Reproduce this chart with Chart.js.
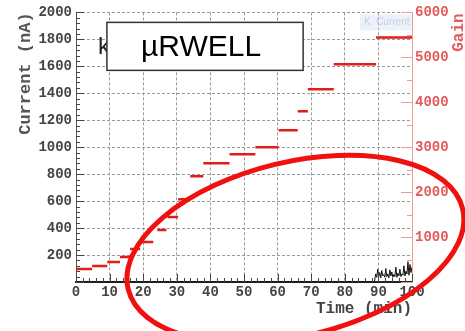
<!DOCTYPE html>
<html>
<head>
<meta charset="utf-8">
<script src="https://cdn.jsdelivr.net/npm/chart.js@4.4.1/dist/chart.umd.min.js"></script>
<style>
  html, body { margin: 0; padding: 0; background: #fff; }
  #wrap { width: 465px; height: 331px; }
</style>
</head>
<body>
<div id="wrap"><canvas id="canvas"></canvas></div>
<script>
//****DATA****//

// gain steps (red), time in min
var segStart = [0, 4.8, 9.3, 13.1, 16.1, 19.1, 24.2, 27.2, 30.4, 34, 37.9, 45.7, 53.4, 60.3, 66, 69, 76.7, 89.3];
var segEnd   = [4.8, 9.3, 13.1, 16.1, 19.1, 23, 26.9, 30.4, 33.7, 37.9, 45.7, 53.4, 60.3, 66, 69, 76.7, 89.3, 100];
var segGain  = [290, 355, 444, 555, 733, 890, 1155, 1444, 1844, 2355, 2644, 2844, 3000, 3377, 3800, 4289, 4844, 5444];

// current trace (black), nA
var currentTime  = [0, 88.8, 89.2, 89.5, 89.8, 90.1, 90.4, 90.7, 91.0, 91.3, 91.6, 91.9, 92.2, 92.5, 92.8, 93.1,
                    93.4, 93.7, 94.0, 94.3, 94.6, 94.9, 95.2, 95.5, 95.8, 96.1, 96.4, 96.7, 97.0, 97.3, 97.6,
                    97.9, 98.2, 98.5, 98.8, 99.1, 99.4, 99.7, 100];
var currentValue = [0, 0, 60, 35, 95, 40, 70, 30, 85, 45, 55, 35, 100, 40, 60, 30,
                    90, 45, 75, 35, 55, 40, 110, 35, 65, 45, 95, 40, 60, 50, 120,
                    45, 80, 60, 150, 50, 130, 70, 110];

var labelText = 'µRWELL';

//****HELPERS****//

var mono = '"Liberation Mono", "DejaVu Sans Mono", monospace';

function hideZero(v) {
  return v === 0 ? '' : v;
}

var gainPoints = [];
for (var i = 0; i < segStart.length; i++) {
  gainPoints.push({x: segStart[i], y: segGain[i]});
  gainPoints.push({x: segEnd[i], y: segGain[i]});
  gainPoints.push({x: segEnd[i], y: null});
}

var currentPoints = [];
for (var j = 0; j < currentTime.length; j++) {
  currentPoints.push({x: currentTime[j], y: currentValue[j]});
}

//****EXTRA DRAWING****//

var extras = {
  id: 'extras',
  afterDraw: function (chart) {
    var ctx = chart.ctx;
    var sx = chart.scales.x;
    var sy = chart.scales.y;
    var sg = chart.scales.gain;
    var area = chart.chartArea;
    var v;

    ctx.save();

    // minor / major ticks, inside the frame
    ctx.strokeStyle = '#444';
    ctx.lineWidth = 1;
    ctx.beginPath();
    for (v = 0; v <= 2000; v += 40) {
      var py = Math.round(sy.getPixelForValue(v)) + 0.5;
      ctx.moveTo(area.left, py);
      ctx.lineTo(area.left + (v % 200 === 0 ? 8 : 4), py);
    }
    for (v = 0; v <= 100; v += 2) {
      var px = Math.round(sx.getPixelForValue(v)) + 0.5;
      ctx.moveTo(px, area.bottom);
      ctx.lineTo(px, area.bottom - (v % 10 === 0 ? 8 : 4));
    }
    ctx.stroke();

    ctx.strokeStyle = '#f29a9a';
    ctx.beginPath();
    for (v = 0; v <= 6000; v += 500) {
      var gy = Math.round(sg.getPixelForValue(v)) + 0.5;
      ctx.moveTo(area.right, gy);
      ctx.lineTo(area.right - (v % 1000 === 0 ? 11 : 5), gy);
    }
    ctx.stroke();

    // right axis title, reading upward
    ctx.save();
    ctx.translate(459, area.top + 1);
    ctx.rotate(-Math.PI / 2);
    ctx.fillStyle = '#e35a5a';
    ctx.font = 'bold 16px ' + mono;
    ctx.textAlign = 'right';
    ctx.textBaseline = 'middle';
    ctx.fillText('Gain', 0, 0);
    ctx.restore();

    // faint legend ghost top right
    var lx = sx.getPixelForValue(84.5);
    var lw = sx.getPixelForValue(100) - lx;
    var ly = sy.getPixelForValue(1985);
    ctx.fillStyle = 'rgba(200,215,240,0.35)';
    ctx.fillRect(lx, ly, lw, 16);
    ctx.fillStyle = 'rgba(170,180,210,0.55)';
    ctx.font = '10px "Liberation Sans", sans-serif';
    ctx.textBaseline = 'middle';
    ctx.textAlign = 'left';
    ctx.fillText('K  Current', lx + 4, ly + 8);

    // hidden text behind label box
    var bx0 = sx.getPixelForValue(9.2);
    var bx1 = sx.getPixelForValue(67.6);
    var by0 = sy.getPixelForValue(1926);
    var by1 = sy.getPixelForValue(1570);
    ctx.fillStyle = '#222';
    ctx.font = '24px "Liberation Sans", sans-serif';
    ctx.fillText('k', bx0 - 9, (by0 + by1) / 2 + 1);

    // label box
    ctx.fillStyle = '#fff';
    ctx.fillRect(bx0, by0, bx1 - bx0, by1 - by0);
    ctx.strokeStyle = '#333';
    ctx.lineWidth = 1.5;
    ctx.strokeRect(bx0, by0, bx1 - bx0, by1 - by0);
    ctx.fillStyle = '#000';
    ctx.font = '30px "Liberation Sans", Arial, sans-serif';
    ctx.textAlign = 'center';
    ctx.textBaseline = 'alphabetic';
    ctx.fillText(labelText, (bx0 + bx1) / 2 - 4, by0 + 34);

    // red ellipse annotation
    var ex = sx.getPixelForValue(65.3);
    var ey = sy.getPixelForValue(245);
    ctx.strokeStyle = '#f01010';
    ctx.lineWidth = 5;
    ctx.beginPath();
    ctx.ellipse(ex, ey, 172, 87, -13.5 * Math.PI / 180, 0, Math.PI * 2);
    ctx.stroke();

    ctx.restore();
  }
};

//****CHART****//

var ctx = document.getElementById('canvas').getContext('2d');

var chart = new Chart(ctx, {
  type: 'line',
  data: {
    datasets: [
      {
        label: 'Current',
        data: currentPoints,
        yAxisID: 'y',
        borderColor: '#111',
        borderWidth: 1,
        pointRadius: 0,
        tension: 0
      },
      {
        label: 'Gain',
        data: gainPoints,
        yAxisID: 'gain',
        borderColor: '#e21b1b',
        borderWidth: 2.5,
        pointRadius: 0,
        spanGaps: false,
        tension: 0
      }
    ]
  },
  options: {
    responsive: true,
    maintainAspectRatio: false,
    animation: false,
    layout: { padding: { top: 12, left: 0, right: 0, bottom: 0 } },
    plugins: {
      legend: { display: false },
      tooltip: { enabled: false }
    },
    scales: {
      x: {
        type: 'linear',
        position: 'bottom',
        min: 0,
        max: 100,
        afterFit: function (scale) { scale.height = 49; },
        ticks: {
          stepSize: 10,
          autoSkip: false,
          maxRotation: 0,
          padding: 2,
          color: '#444',
          font: { family: mono, size: 14, weight: 'bold' }
        },
        grid: { color: '#9a9a9a', lineWidth: 1, drawTicks: false },
        border: { color: '#222', width: 2, dash: [3, 2] },
        title: {
          display: true,
          text: 'Time (min)',
          align: 'end',
          color: '#444',
          padding: { top: 0, bottom: 12 },
          font: { family: mono, size: 16, weight: 'bold' }
        }
      },
      y: {
        position: 'left',
        min: 0,
        max: 2000,
        afterFit: function (scale) { scale.width = 76; },
        ticks: {
          stepSize: 200,
          padding: 4,
          color: '#444',
          callback: hideZero,
          font: { family: mono, size: 14, weight: 'bold' }
        },
        grid: { color: '#9a9a9a', lineWidth: 1, drawTicks: false },
        border: { color: '#555', width: 1, dash: [3, 2] },
        title: {
          display: true,
          text: 'Current (nA)',
          align: 'end',
          color: '#555',
          padding: { top: 16, bottom: 0 },
          font: { family: mono, size: 17, weight: 'bold' }
        }
      },
      gain: {
        position: 'right',
        min: 0,
        max: 6000,
        afterFit: function (scale) { scale.width = 53; },
        ticks: {
          stepSize: 1000,
          padding: 3,
          color: '#e35a5a',
          callback: hideZero,
          font: { family: mono, size: 14, weight: 'bold' }
        },
        grid: { drawOnChartArea: false, drawTicks: false },
        border: { color: '#f29a9a', width: 1 }
      }
    }
  },
  plugins: [extras]
});
</script>
</body>
</html>
